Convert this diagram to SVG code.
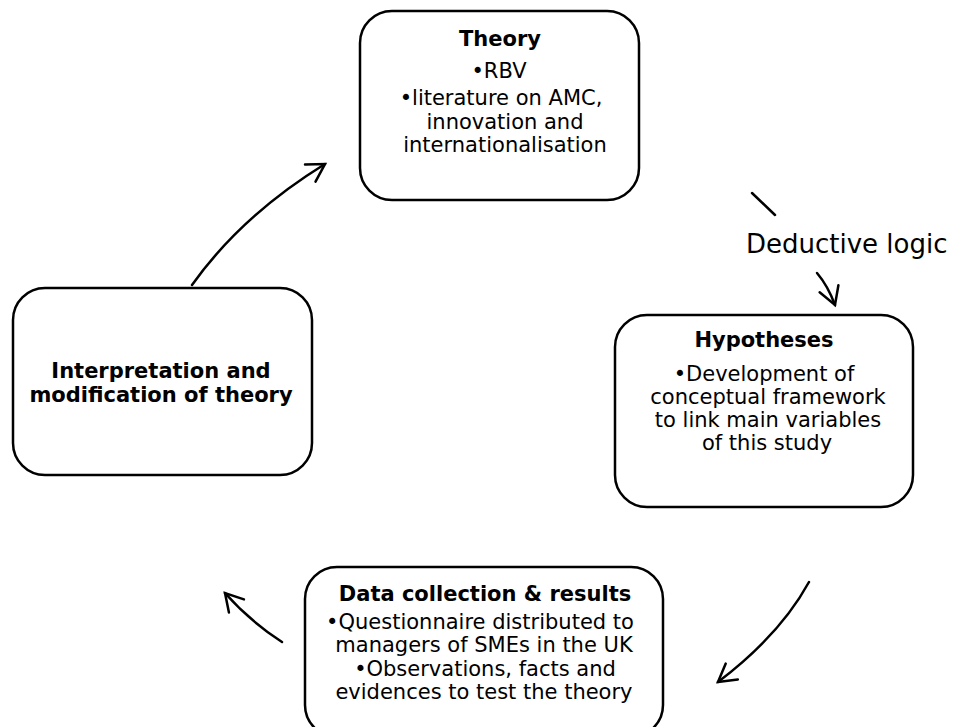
<svg xmlns="http://www.w3.org/2000/svg" width="954" height="727" viewBox="0 0 954 727">
<style>
.box{fill:#fff;stroke:#000;stroke-width:2.5}
.t{font-family:"DejaVu Sans",Verdana,sans-serif;font-size:21px;fill:#000;text-anchor:middle}
.b{font-weight:bold}
.lbl{font-family:"DejaVu Sans",Verdana,sans-serif;font-size:26px;fill:#000}
.arr{fill:none;stroke:#000;stroke-width:2.5;stroke-linecap:round}
</style>
<defs>
<marker id="ah" markerUnits="userSpaceOnUse" markerWidth="40" markerHeight="40" viewBox="-25 -20 40 40" refX="0" refY="0" orient="auto" overflow="visible">
<path d="M -17.3 -10 L 0 0 L -17.3 10" fill="none" stroke="#000" stroke-width="2.5" stroke-linecap="round" stroke-linejoin="miter"/>
</marker>
</defs>
<rect width="954" height="727" fill="#fff"/>
<g id="connectors">
<path class="arr" d="M 192 285 Q 241.5 215.5 325 164" marker-end="url(#ah)"/>
<path class="arr" d="M 752 193 L 775 215"/>
<path class="arr" d="M 817 273 Q 828 286 835 305" marker-end="url(#ah)"/>
<path class="arr" d="M 809 582 Q 780 635 718 682" marker-end="url(#ah)"/>
<path class="arr" d="M 282 642 Q 249.5 620.8 225 593" marker-end="url(#ah)"/>
<text class="lbl" x="746" y="253">Deductive logic</text>
</g>
<g id="theory">
<rect class="box" x="360" y="11" width="279" height="189" rx="32"/>
<text class="t b" x="500" y="46">Theory</text>
<text class="t" x="499" y="78">•RBV</text>
<text class="t" x="501" y="105">•literature on AMC,</text>
<text class="t" x="505" y="129">innovation and</text>
<text class="t" x="505" y="152">internationalisation</text>
</g>
<g id="hypotheses">
<rect class="box" x="615" y="315" width="298" height="192" rx="32"/>
<text class="t b" x="764" y="347">Hypotheses</text>
<text class="t" x="764" y="381">•Development of</text>
<text class="t" x="768" y="404">conceptual framework</text>
<text class="t" x="768" y="427">to link main variables</text>
<text class="t" x="767" y="450">of this study</text>
</g>
<g id="data">
<rect class="box" x="305" y="567" width="358" height="170" rx="32"/>
<text class="t b" x="485" y="601">Data collection &amp; results</text>
<text class="t" x="480" y="629">•Questionnaire distributed to</text>
<text class="t" x="484" y="652">managers of SMEs in the UK</text>
<text class="t" x="485" y="676">•Observations, facts and</text>
<text class="t" x="484" y="699">evidences to test the theory</text>
</g>
<g id="interpretation">
<rect class="box" x="13" y="288" width="299" height="187" rx="32"/>
<text class="t b" x="161" y="378">Interpretation and</text>
<text class="t b" x="161" y="402">modification of theory</text>
</g>
</svg>
